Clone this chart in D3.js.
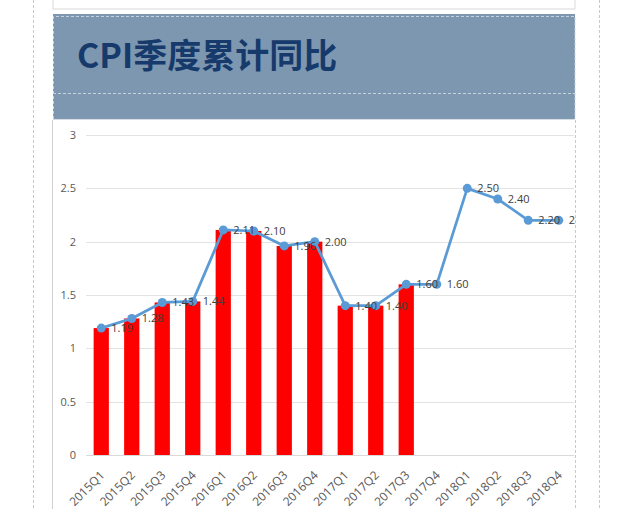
<!DOCTYPE html>
<html><head><meta charset="utf-8">
<script src="https://cdn.jsdelivr.net/npm/d3@7"></script>
<style>
html,body{margin:0;padding:0;background:#fff;}
svg{display:block;}
</style></head>
<body>
<script>
const categories = ["2015Q1","2015Q2","2015Q3","2015Q4","2016Q1","2016Q2","2016Q3","2016Q4","2017Q1","2017Q2","2017Q3","2017Q4","2018Q1","2018Q2","2018Q3","2018Q4"];
const barValues = [1.19,1.28,1.43,1.44,2.11,2.10,1.96,2.00,1.40,1.40,1.60];
const lineValues = [1.19,1.28,1.43,1.44,2.11,2.10,1.96,2.00,1.40,1.40,1.60,1.60,2.50,2.40,2.20,2.20];
const yTicks = [0,0.5,1,1.5,2,2.5,3];
const title = "CPI季度累计同比";

const W = 640, H = 509;
const svg = d3.select("body").append("svg").attr("width", W).attr("height", H);

svg.append("defs").append("clipPath").attr("id","plotclip")
  .append("rect").attr("x",53).attr("y",119).attr("width",522).attr("height",H-119);

// page frame
svg.append("line").attr("x1",33.5).attr("x2",33.5).attr("y1",0).attr("y2",H)
  .attr("stroke","#c8c8c8").attr("stroke-dasharray","3,2");
svg.append("line").attr("x1",599.5).attr("x2",599.5).attr("y1",0).attr("y2",H)
  .attr("stroke","#c8c8c8").attr("stroke-dasharray","3,2");

// top box
svg.append("rect").attr("x",53).attr("y",-2).attr("width",522).attr("height",11)
  .attr("fill","#fff").attr("stroke","#d9d9d9");

// banner
svg.append("rect").attr("x",53).attr("y",14).attr("width",522).attr("height",105).attr("fill","#7e97b0");
svg.append("path").attr("d","M53.5,119 V16.5 H575 V119")
  .attr("fill","none").attr("stroke","#c9d3de").attr("stroke-dasharray","3,2");
svg.append("line").attr("x1",53).attr("x2",575).attr("y1",93.5).attr("y2",93.5)
  .attr("stroke","#c9d3de").attr("stroke-dasharray","3,2");
svg.append("line").attr("x1",53).attr("x2",575).attr("y1",119.5).attr("y2",119.5)
  .attr("stroke","#d6dde5");
svg.append("text").attr("x",77).attr("y",68).text(title)
  .attr("font-family","'Noto Sans CJK SC', 'Noto Sans', sans-serif")
  .attr("font-weight","bold").attr("font-size",34).attr("fill","#163a6b");

// chart area borders
svg.append("line").attr("x1",52.5).attr("x2",52.5).attr("y1",120).attr("y2",H).attr("stroke","#d0d0d0");
svg.append("line").attr("x1",575.5).attr("x2",575.5).attr("y1",120).attr("y2",H)
  .attr("stroke","#c8c8c8").attr("stroke-dasharray","3,2");

const x = d3.scaleBand().domain(categories).range([86,574]).paddingInner(0.5).paddingOuter(0.25);
const y = d3.scaleLinear().domain([0,3]).range([455,135]);

// grid
svg.append("g").selectAll("line").data(yTicks).join("line")
  .attr("x1",86).attr("x2",574).attr("y1",d=>Math.round(y(d))+0.5).attr("y2",d=>Math.round(y(d))+0.5)
  .attr("stroke",d=>d===0?"#d9d9d9":"#e3e3e3");

// y labels
svg.append("g").selectAll("text").data(yTicks).join("text")
  .attr("x",76).attr("y",d=>y(d)+4).attr("text-anchor","end")
  .attr("font-family","'Open Sans', sans-serif").attr("font-size",11).attr("fill","#595959")
  .text(d=>d);

// bars
svg.append("g").selectAll("rect").data(barValues).join("rect")
  .attr("x",(d,i)=>x(categories[i])).attr("width",x.bandwidth())
  .attr("y",d=>y(d)).attr("height",d=>y(0)-y(d)).attr("fill","#ff0000");

// x labels
svg.append("g").selectAll("text").data(categories).join("text")
  .attr("transform",d=>`translate(${x(d)+x.bandwidth()/2+4},${476}) rotate(-45)`)
  .attr("text-anchor","end")
  .attr("font-family","'Open Sans', sans-serif").attr("font-size",12).attr("fill","#595959")
  .text(d=>d);

// line
const cx = i => x(categories[i]) + x.bandwidth()/2;
svg.append("path").datum(lineValues)
  .attr("d", d3.line().x((d,i)=>cx(i)).y(d=>y(d)))
  .attr("fill","none").attr("stroke","#5b9bd5").attr("stroke-width",2.75).attr("stroke-linejoin","round");
svg.append("g").selectAll("circle").data(lineValues).join("circle")
  .attr("cx",(d,i)=>cx(i)).attr("cy",d=>y(d)).attr("r",4.5).attr("fill","#5b9bd5");

// data labels
svg.append("g").attr("clip-path","url(#plotclip)").selectAll("text").data(lineValues).join("text")
  .attr("x",(d,i)=>cx(i)+10).attr("y",d=>y(d)+4)
  .attr("font-family","'Open Sans', sans-serif").attr("font-size",11).attr("fill","#404040")
  .text(d=>d.toFixed(2));
</script>
</body></html>
